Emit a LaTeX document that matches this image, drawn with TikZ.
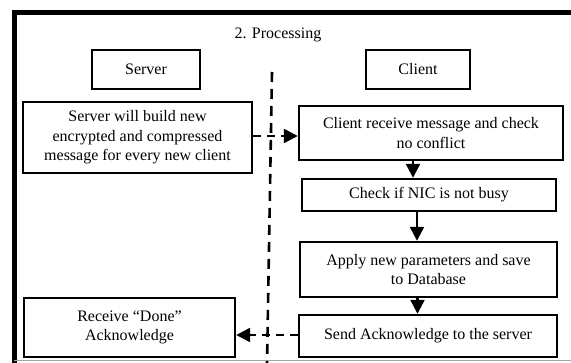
\documentclass[tikz,border=0pt]{standalone}
\usepackage{fontspec}
\setmainfont{Liberation Serif}
\usetikzlibrary{arrows.meta,positioning,calc}
\tikzset{
  boxbig/.style={draw, line width=2.4pt, inner sep=0pt, align=center, font=\fontsize{16}{19.5}\selectfont},
  boxhead/.style={draw, line width=1.2pt, inner sep=0pt, align=center, font=\fontsize{16}{19.5}\selectfont},
  solidarrow/.style={line width=2.4pt, -{Triangle[length=14pt,width=14pt]}},
  dasharrow/.style={line width=2.4pt, dash pattern=on 8pt off 6pt, -{Triangle[length=14pt,width=14pt]}},
  divider/.style={line width=2.6pt, dash pattern=on 10pt off 7pt},
}
\begin{document}
\begin{tikzpicture}[x=1pt,y=-1pt]
\useasboundingbox (0,0) rectangle (571,363);
\fill[white] (0,0) rectangle (571,363);
% frame
\draw[line width=5pt] (14.5,365) -- (14.5,12.5) -- (575,12.5);
\draw[gray!70, line width=1pt] (14,361) -- (571,361);
% title
\node[font=\fontsize{16}{19.5}\selectfont] (title) at (278,35) {2. Processing};
% headers
\node[boxhead, minimum width=108pt, minimum height=39pt] (server) at (146,69.5) {Server};
\node[boxhead, minimum width=104pt, minimum height=39pt] (client) at (418,69.5) {Client};
% divider
\coordinate (dtop) at (272,72);
\coordinate (dbot) at (267,365);
\draw[divider] (dtop) -- (dbot);
% boxes
\node[boxbig, minimum width=229pt, minimum height=71pt] (build) at (137.5,137.5)
  {Server will build new\\encrypted and compressed\\message for every new client};
\node[boxbig, minimum width=264pt, minimum height=54pt] (recv) at (431,133)
  {Client receive message and check\\no conflict};
\node[boxbig, minimum width=254pt, minimum height=32pt] (nic) at (429,195)
  {Check if NIC is not busy};
\node[boxbig, minimum width=257pt, minimum height=55pt] (apply) at (428.5,269.5)
  {Apply new parameters and save\\to Database};
\node[boxbig, minimum width=258pt, minimum height=42pt] (send) at (428,336)
  {Send Acknowledge to the server};
\node[boxbig, minimum width=211pt, minimum height=59pt] (done) at (129.5,327.5)
  {Receive ``Done''\\Acknowledge};
% connectors
\draw[dasharrow] (build.east |- 0,136) -- (recv.west |- 0,136);
\draw[solidarrow] ([xshift=-18pt]recv.south) -- ([xshift=-18pt]recv.south |- nic.north);
\draw[solidarrow] ([xshift=-12pt]nic.south) -- ([xshift=-12pt]nic.south |- apply.north);
\draw[solidarrow] ([xshift=-11pt]apply.south) -- ([xshift=-11pt]apply.south |- send.north);
\draw[dasharrow] (send.west |- 0,335) -- (done.east |- 0,335);
\end{tikzpicture}
\end{document}
